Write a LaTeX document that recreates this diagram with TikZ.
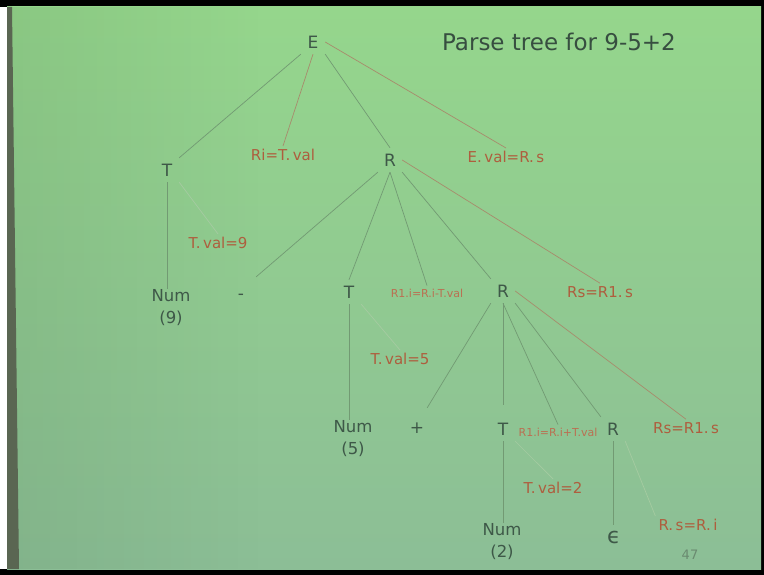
\documentclass[tikz,border=0pt]{standalone}
\usepackage{fontspec}
\setmainfont{DejaVu Sans}
\usetikzlibrary{fadings}
\definecolor{bgtop}{HTML}{95D68C}
\definecolor{bgbot}{HTML}{8CBE96}
\definecolor{nodetxt}{HTML}{3E5848}
\definecolor{titletxt}{HTML}{374E40}
\definecolor{attrtxt}{HTML}{AE5E3E}
\definecolor{attrlight}{HTML}{BA7052}
\definecolor{treeline}{HTML}{729A73}
\definecolor{attrline}{HTML}{A88B6C}
\definecolor{faintline}{HTML}{A5CBA1}
\definecolor{strip}{HTML}{5A6652}
\definecolor{pagetxt}{HTML}{6A8A70}
\tikzset{
  sym/.style={text=nodetxt, font=\fontsize{17}{17}\selectfont, inner sep=0pt, minimum width=24pt, minimum height=24pt},
  leaf/.style={text=nodetxt, font=\fontsize{16.5}{22}\selectfont, align=center, inner sep=1pt},
  attr/.style={text=attrtxt, font=\fontsize{15}{15}\selectfont, inner sep=3pt},
  attrsmall/.style={text=attrlight, font=\fontsize{11}{11}\selectfont, inner sep=3pt},
  tree/.style={draw=treeline, line width=0.7pt},
  dep/.style={draw=attrline, line width=0.7pt},
  faint/.style={draw=faintline, line width=0.7pt},
}
\begin{document}
\begin{tikzpicture}[x=1pt,y=-1pt]
\useasboundingbox (0,0) rectangle (764,575);
% frame and background
\fill[white] (0,0) rectangle (764,575);
\fill[black] (0,0) rectangle (764,7);
\fill[black] (0,569) rectangle (764,575);
\fill[black] (761,0) rectangle (764,575);
\shade[top color=bgtop, bottom color=bgbot] (7,7) rectangle (761,569);
\fill[black!60!green!40!gray, fill opacity=0.15, path fading=east] (7,7) rectangle (260,569);
\fill[strip] (7,7) -- (12,7) -- (19,569) -- (7,569) -- cycle;

% title
\node[text=titletxt, font=\fontsize{23}{23}\selectfont, inner sep=0pt] (title) at (559,42) {Parse tree for 9-5+2};

% tree nodes
\node[sym] (E) at (313,42) {E};
\node[sym] (T1) at (167,170) {T};
\node[attr] (Ri) at (283,155) {Ri=T.\,val};
\node[sym] (R1) at (390,160) {R};
\node[attr] (Eval) at (506,157) {E.\,val=R.\,s};
\node[attr] (Tval9) at (218,243) {T.\,val=9};
\node[leaf] (Num9) at (171,308) {Num\\(9)};
\node[sym, minimum width=30pt, minimum height=40pt] (minus) at (241,297) {-};
\node[sym] (T2) at (349,292) {T};
\node[attrsmall] (LRm) at (427,293) {R1.i=R.i-T.val};
\node[sym] (R2) at (503,291) {R};
\node[attr] (Rs2) at (600,292) {Rs=R1.\,s};
\node[attr] (Tval5) at (400,359) {T.\,val=5};
\node[leaf] (Num5) at (353,439) {Num\\(5)};
\node[sym, minimum width=20pt, minimum height=40pt] (plus) at (417,428) {+};
\node[sym] (T3) at (503,429) {T};
\node[attrsmall] (LRp) at (558,432) {R1.i=R.i+T.val};
\node[sym] (R3) at (613,429) {R};
\node[attr] (Rs3) at (686,428) {Rs=R1.\,s};
\node[attr] (Tval2) at (553,488) {T.\,val=2};
\node[leaf] (Num2) at (502,542) {Num\\(2)};
\node[sym, font=\fontsize{22}{22}\selectfont] (eps) at (614,537) {ϵ};
\node[attr] (Rsi) at (688,525) {R.\,s=R.\,i};
\node[text=pagetxt, font=\fontsize{13}{13}\selectfont] (page) at (690,555) {47};

% edges from E
\draw[tree] (E.south west) -- (T1.north east);
\draw[dep] (E.south) -- (Ri.north);
\draw[tree] (E.south east) -- (R1.north);
\draw[dep] (E.east) -- (Eval.north);
% T1
\draw[tree] (T1.south) -- (T1.south |- Num9.north);
\draw[faint] (T1.south east) -- (Tval9.north);
% R1
\draw[tree] (R1.south west) -- (minus.north east);
\draw[tree] (R1.south) -- (T2.north);
\draw[tree] (R1.south) -- (LRm.north);
\draw[tree] (R1.south east) -- (R2.north west);
\draw[dep] (R1.east) -- (Rs2.north);
% T2
\draw[tree] (T2.south) -- (T2.south |- Num5.north);
\draw[faint] (T2.south east) -- (Tval5.north);
% R2
\draw[tree] (R2.south west) -- (plus.north east);
\draw[tree, shorten >=12pt] (R2.south) -- (T3.north);
\draw[tree] (R2.south) -- (LRp.north);
\draw[tree] (R2.south east) -- (R3.north west);
\draw[dep] (R2.east) -- (Rs3.north);
% T3
\draw[tree] (T3.south) -- (T3.south |- Num2.north);
\draw[faint] (T3.south east) -- (Tval2.north);
% R3
\draw[tree] (R3.south) -- (R3.south |- eps.north);
\draw[faint] (R3.south east) -- (Rsi.north west);
\end{tikzpicture}
\end{document}
